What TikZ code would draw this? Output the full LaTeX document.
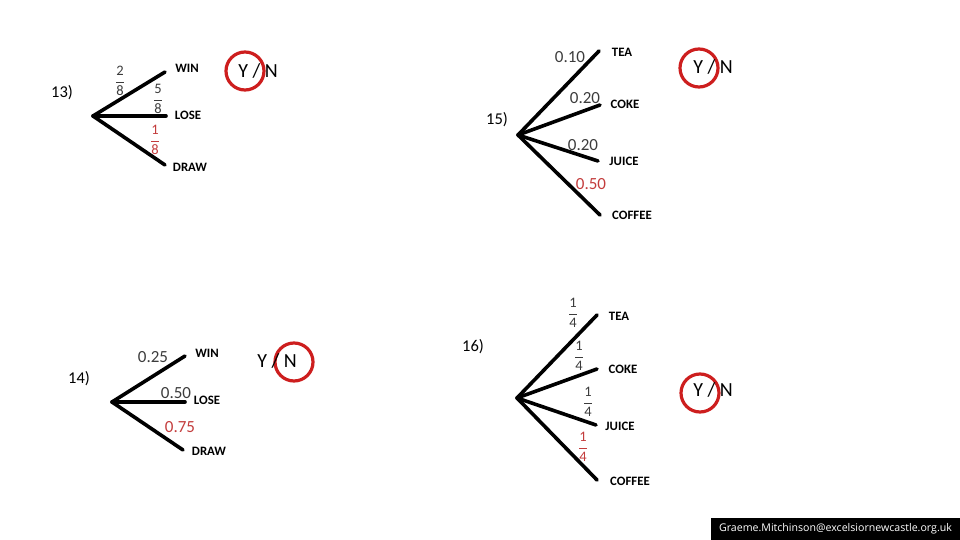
\documentclass[tikz,border=0pt]{standalone}
\usepackage{amsmath}
\usepackage{fontspec}
\setmainfont{Carlito}
\newfontfamily\footfont{Open Sans}
\definecolor{redcirc}{RGB}{205,30,30}
\definecolor{redtxt}{RGB}{195,60,60}
\definecolor{probgray}{RGB}{60,60,60}
\newcommand\fr[2]{$\genfrac{}{}{0.7pt}{0}{\mbox{#1}}{\mbox{#2}}$}
\tikzset{
  branch/.style={line width=3.6pt, line cap=round},
  outcome/.style={font=\fontsize{12.8}{14}\selectfont\bfseries, inner sep=0pt},
  prob/.style={font=\fontsize{17}{19}\selectfont, text=probgray, inner sep=0pt},
  redprob/.style={prob, text=redtxt},
  frac/.style={font=\fontsize{14.5}{16}\selectfont, text=probgray, inner sep=0pt},
  redfrac/.style={frac, text=redtxt},
  qnum/.style={font=\fontsize{16.5}{18}\selectfont, inner sep=0pt},
  yn/.style={font=\fontsize{20}{22}\selectfont, inner sep=0pt},
  ring/.style={circle, draw=redcirc, line width=3.2pt, minimum size=38pt, inner sep=0pt}
}
\begin{document}
\begin{tikzpicture}[x=1pt,y=-1pt]
\useasboundingbox (0,0) rectangle (960,540);
% ---------- 13 ----------
\node[qnum] (q13) at (62,93) {13)};
\coordinate (r13) at (93,116);
\coordinate (e13a) at (165,72);
\coordinate (e13b) at (166,116);
\coordinate (e13c) at (165,165);
\draw[branch] (r13) -- (e13a);
\draw[branch] (r13) -- (e13b);
\draw[branch] (r13) -- (e13c);
\node[outcome] (w13) at (187,68) {WIN};
\node[outcome] (l13) at (188,115) {LOSE};
\node[outcome] (d13) at (190,167) {DRAW};
\node[frac] (f13a) at (120,81) {\fr{2}{8}};
\node[frac] (f13b) at (158,99) {\fr{5}{8}};
\node[redfrac] (f13c) at (155,140) {\fr{1}{8}};
\node[ring] (c13) at (245,71) {};
\node[yn] (yn13) at (258,71) {Y / N};
% ---------- 15 ----------
\node[qnum] (q15) at (497,120) {15)};
\coordinate (r15) at (518,135);
\coordinate (e15a) at (599,51);
\coordinate (e15b) at (600,105);
\coordinate (e15c) at (598,161);
\coordinate (e15d) at (600,215);
\draw[branch] (r15) -- (e15a);
\draw[branch] (r15) -- (e15b);
\draw[branch] (r15) -- (e15c);
\draw[branch] (r15) -- (e15d);
\node[outcome] (t15) at (622,52) {TEA};
\node[outcome] (k15) at (625,104) {COKE};
\node[outcome] (j15) at (624,161) {JUICE};
\node[outcome] (o15) at (632,215) {COFFEE};
\node[prob] (p15a) at (570,57) {0.10};
\node[prob] (p15b) at (585,98) {0.20};
\node[prob] (p15c) at (583,145) {0.20};
\node[redprob] (p15d) at (591,184) {0.50};
\node[ring] (c15) at (699,68) {};
\node[yn] (yn15) at (713,67) {Y / N};
% ---------- 14 ----------
\node[qnum] (q14) at (79,379) {14)};
\coordinate (r14) at (112,402);
\coordinate (e14a) at (185,356);
\coordinate (e14b) at (185,402);
\coordinate (e14c) at (183,450);
\draw[branch] (r14) -- (e14a);
\draw[branch] (r14) -- (e14b);
\draw[branch] (r14) -- (e14c);
\node[outcome] (w14) at (207,353) {WIN};
\node[outcome] (l14) at (207,400) {LOSE};
\node[outcome] (d14) at (209,451) {DRAW};
\node[prob] (p14a) at (153,357) {0.25};
\node[prob] (p14b) at (176,393) {0.50};
\node[redprob] (p14c) at (180,427) {0.75};
\node[ring] (c14) at (294,362) {};
\node[yn] (yn14) at (277,361) {Y / N};
% ---------- 16 ----------
\node[qnum] (q16) at (473,347) {16)};
\coordinate (r16) at (517,398);
\coordinate (e16a) at (597,315);
\coordinate (e16b) at (597,369);
\coordinate (e16c) at (596,425);
\coordinate (e16d) at (597,480);
\draw[branch] (r16) -- (e16a);
\draw[branch] (r16) -- (e16b);
\draw[branch] (r16) -- (e16c);
\draw[branch] (r16) -- (e16d);
\node[outcome] (t16) at (619,316) {TEA};
\node[outcome] (k16) at (623,369) {COKE};
\node[outcome] (j16) at (620,426) {JUICE};
\node[outcome] (o16) at (630,481) {COFFEE};
\node[frac] (f16a) at (573,313) {\fr{1}{4}};
\node[frac] (f16b) at (579,356) {\fr{1}{4}};
\node[frac] (f16c) at (588,402) {\fr{1}{4}};
\node[redfrac] (f16d) at (583,447) {\fr{1}{4}};
\node[ring] (c16) at (700,393) {};
\node[yn] (yn16) at (713,390) {Y / N};
% ---------- footer ----------
\node[fill=black, text=white, minimum width=249pt, minimum height=22pt, inner sep=0pt,
      font=\footfont\fontsize{10.6}{12}\selectfont] (foot) at (835.5,529) {Graeme.Mitchinson@excelsiornewcastle.org.uk};
\end{tikzpicture}
\end{document}
